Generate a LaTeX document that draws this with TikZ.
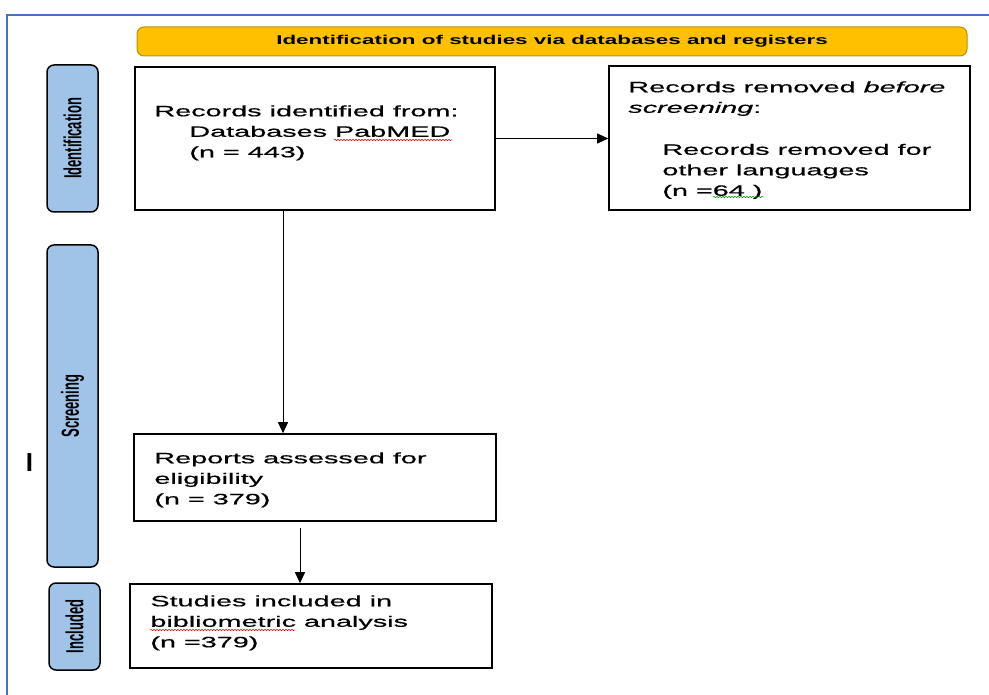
\documentclass[tikz,border=0pt]{standalone}
\usepackage{fontspec}
\usepackage{graphicx}
\usepackage{xcolor}
\usepackage{tikz}
\usetikzlibrary{arrows.meta,decorations.pathmorphing}

\setmainfont{Liberation Sans}
\newfontfamily\boxfont[FakeStretch=1.92,FakeBold=0.6]{Liberation Sans}
\newfontfamily\bannerfont[FakeStretch=1.75]{Liberation Sans}

\definecolor{framecol}{RGB}{68,114,196}
\definecolor{bannerfill}{RGB}{255,192,0}
\definecolor{bannerdraw}{RGB}{191,144,0}
\definecolor{phasefill}{RGB}{160,196,232}

\begin{document}
\begin{tikzpicture}[x=1pt, y=1pt,
	banner/.style={draw=bannerdraw, fill=bannerfill, line width=1pt, rounded corners=7pt, inner sep=0pt, font=\bannerfont\bfseries\fontsize{12.8}{14}\selectfont},
	phase/.style={draw, line width=1.5pt, fill=phasefill, rounded corners=7pt, rotate=90, minimum height=51pt, inner sep=0pt, font=\bfseries\fontsize{13}{15}\selectfont},
	box/.style={draw, line width=1.6pt, inner sep=0pt},
	txt/.style={anchor=north west, inner sep=0pt, align=left, font=\boxfont\fontsize{15}{20.5}\selectfont},
	flow/.style={line width=1pt, -{Triangle[length=11pt,width=10pt]}},
	spell/.style={decorate, decoration={snake, amplitude=0.7pt, segment length=3pt}, line width=0.5pt}]
					\useasboundingbox (0,0) rectangle (989,-695);
					\draw[framecol, line width=2pt] (989,-15) -- (7,-15) -- (7,-695);
					\node[banner, minimum width=830pt, minimum height=29pt] (bannerid) at (552,-41.5) {Identification of studies via databases and registers};
					\node[phase, minimum width=147pt] (idphase) at (72.5,-138.5) {\scalebox{1}[1.9]{Identification}};
					\node[phase, minimum width=322pt] (scrphase) at (72.5,-406) {\scalebox{1}[1.9]{Screening}};
					\node[phase, minimum width=87pt] (incphase) at (74.5,-626.5) {\scalebox{1}[1.9]{Included}};
					\node[box, minimum width=360pt, minimum height=143pt] (recid) at (315,-138.5) {};
					\node[box, minimum width=361pt, minimum height=144pt] (recrem) at (789.5,-138) {};
					\node[box, minimum width=362pt, minimum height=87pt] (reports) at (315,-477.5) {};
					\node[box, minimum width=362pt, minimum height=84pt] (studies) at (311,-626) {};
					\node[txt] (recidtxt) at ([xshift=20pt,yshift=-39pt]recid.north west) {Records identified from:\\\hspace*{35pt}Databases PabMED\\\hspace*{35pt}(n = 443)};
					\node[txt] (recremtxt) at ([xshift=20pt,yshift=-16pt]recrem.north west) {Records removed \textit{before}\\\textit{screening}:\\[21.5pt]\hspace*{34pt}Records removed for\\\hspace*{34pt}other languages\\\hspace*{34pt}(n =64 )};
					\node[txt] (reportstxt) at ([xshift=21pt,yshift=-19pt]reports.north west) {Reports assessed for\\eligibility\\(n = 379)};
					\node[txt] (studiestxt) at ([xshift=21pt,yshift=-12pt]studies.north west) {Studies included in\\bibliometric analysis\\(n =379)};
					\node[inner sep=0pt, font=\bfseries\fontsize{26}{26}\selectfont] (cursor) at (29.5,-462.5) {I};
					\draw[flow] (recid.east) -- (recid.east -| recrem.west);
					\draw[flow] ([xshift=-32pt]recid.south) -- ([xshift=-32pt]recid.south |- reports.north);
					\draw[flow] ([xshift=-15pt,yshift=-6pt]reports.south) -- ([xshift=-15pt]reports.south |- studies.north);
					\draw[spell, red] (334,-140) -- (452,-140);
					\draw[spell, red] (150,-630) -- (295,-630);
					\draw[spell, green!60!black] (713,-197) -- (764,-197);
				\end{tikzpicture}
\end{document}
